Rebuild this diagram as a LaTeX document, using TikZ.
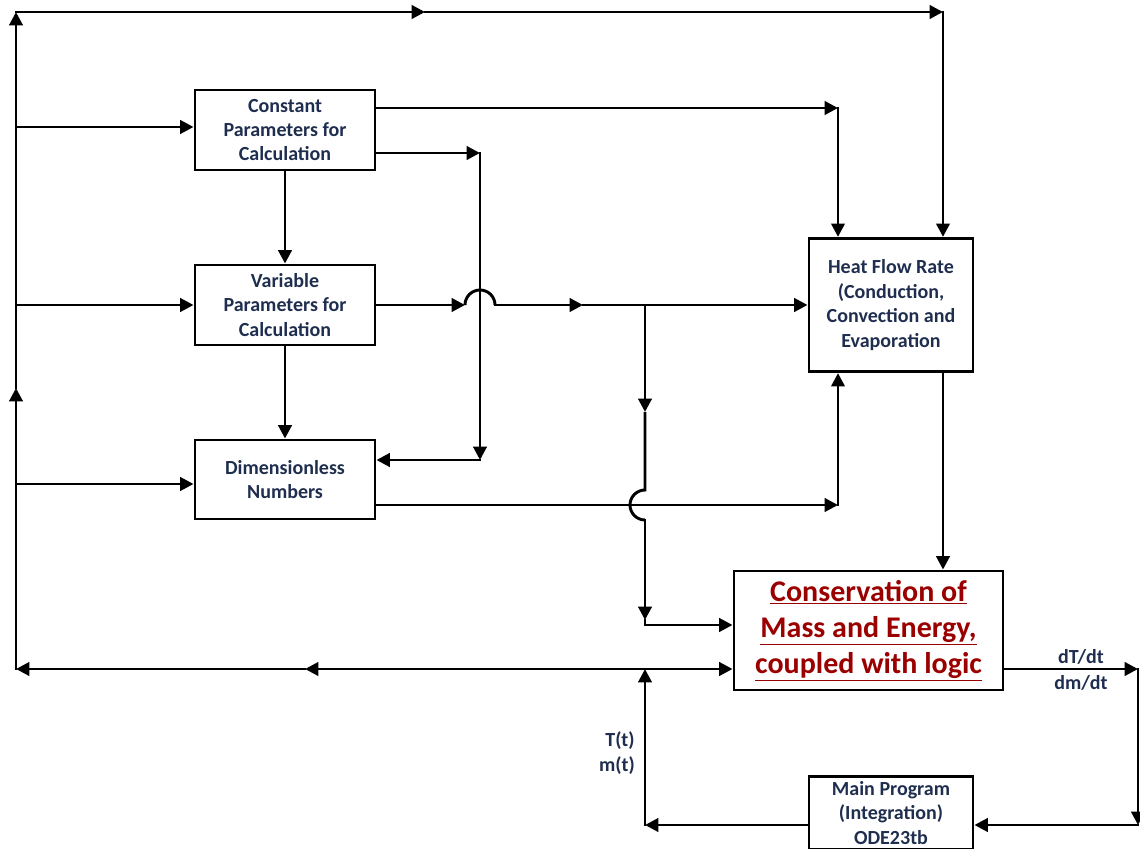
\documentclass[tikz,border=0pt]{standalone}
\usepackage{fontspec}
\setmainfont{Carlito}
\usetikzlibrary{arrows.meta,calc}
\definecolor{txt}{RGB}{31,46,79}
\definecolor{red1}{RGB}{155,0,0}
\begin{document}
\begin{tikzpicture}[x=0.75pt,y=-0.75pt,
  line width=2.2pt, line cap=rect,
  box/.style={draw,line width=2.2pt,align=center,inner sep=0pt,text=txt,
    font=\fontsize{15}{18.3}\selectfont\bfseries},
  arr/.style={-{Triangle[length=10pt,width=10pt]}},
  lab/.style={text=txt,font=\fontsize{15}{18.3}\selectfont\bfseries,inner sep=0pt,align=center}]
\useasboundingbox (0,0) rectangle (1140,849);
% boxes
\node[box,minimum width=135pt,minimum height=60pt] (const) at (285,130) {Constant\\Parameters for\\Calculation};
\node[box,minimum width=135pt,minimum height=60pt] (var) at (285,305) {Variable\\Parameters for\\Calculation};
\node[box,minimum width=135pt,minimum height=59.25pt] (dim) at (285,479.5) {Dimensionless\\Numbers};
\node[box,minimum width=123pt,minimum height=100pt] (heat) at (891,305) {Heat Flow Rate\\(Conduction,\\Convection and\\Evaporation};
\node[box,minimum width=201.75pt,minimum height=89.25pt,text=red1,font=\fontsize{22.5}{27}\selectfont\bfseries] (cons) at (868.5,630.5) {\underline{Conservation of}\\\underline{Mass and Energy,}\\\underline{coupled with logic}};
\node[box,minimum width=123pt,minimum height=54.75pt] (main) at (891,813) {Main Program\\(Integration)\\ODE23tb};
% coordinates
\coordinate (BL) at (16,669);
\coordinate (Lmid) at (16,388);
\coordinate (TL) at (16,12);
\coordinate (Tmid) at (425,12);
\coordinate (TR) at (943,12);
\coordinate (b1) at (16,127);
\coordinate (b2) at (16,305);
\coordinate (b3) at (16,484);
\coordinate (c1) at (375,108);
\coordinate (k1) at (838,108);
\coordinate (c2) at (375,153);
\coordinate (k2) at (480,153);
\coordinate (k3) at (480,460);
\coordinate (h1) at (465,305);
\coordinate (h2) at (495,305);
\coordinate (vmid) at (583,305);
\coordinate (j1) at (645,305);
\coordinate (vdn) at (645,412);
\coordinate (g1) at (645,490);
\coordinate (g2) at (645,520);
\coordinate (vdn2) at (645,620);
\coordinate (k4) at (645,625);
\coordinate (k5) at (838,505);
\coordinate (jb) at (645,669);
\coordinate (bmid) at (305,669);
\coordinate (r1) at (1138,669);
\coordinate (r2) at (1138,825);
\coordinate (m1) at (645,825);
% left trunk and top line
\draw[arr] (BL) -- (Lmid);
\draw[arr] (Lmid) -- (TL);
\draw[arr] (TL) -- (Tmid);
\draw[arr] (Tmid) -- (TR);
\draw[arr] (TR) -- (heat.north -| TR);
% branches to left boxes
\draw[arr] (b1) -- (const.west |- b1);
\draw[arr] (b2) -- (var.west |- b2);
\draw[arr] (b3) -- (dim.west |- b3);
% vertical chain
\draw[arr] (const.south) -- (var.north);
\draw[arr] (var.south) -- (dim.north);
% constant outputs
\draw[arr] (const.east |- c1) -- (k1);
\draw[arr] (k1) -- (heat.north -| k1);
\draw[arr] (const.east |- c2) -- (k2);
\draw[arr] (k2) -- (k3);
\draw[arr] (k3) -- (dim.east |- k3);
% variable output with hop
\draw[arr] (var.east) -- (h1);
\draw[line cap=butt] (h1) arc[start angle=180,end angle=0,radius=11.25pt];
\draw[arr] (h2) -- (vmid);
\draw[arr] (vmid) -- (heat.west);
\draw[arr] (j1) -- (vdn);
\draw[line cap=butt] (vdn) -- (g1) arc[start angle=90,end angle=270,radius=11.25pt];
\draw[arr] (g2) -- (vdn2);
\draw (vdn2) -- (k4);
\draw[arr] (k4) -- (cons.west |- k4);
% dimensionless output
\draw[arr] (dim.east |- k5) -- (k5);
\draw[arr] (k5) -- (heat.south -| k5);
% heat to conservation
\draw[arr] (heat.south -| TR) -- (cons.north -| TR);
% conservation output loop
\draw[arr] (cons.east |- r1) -- (r1);
\draw[arr] (r1) -- (r2);
\draw[arr] (r2) -- (main.east |- r2);
\draw[arr] (main.west |- m1) -- (m1);
\draw[arr] (m1) -- (jb);
\draw[arr] (jb) -- (cons.west |- jb);
\draw[arr] (jb) -- (bmid);
\draw[arr] (bmid) -- (BL);
% labels
\node[lab] (ldT) at (1081,657) {dT/dt};
\node[lab] (ldm) at (1081,683) {dm/dt};
\node[lab] (lT) at (620,741) {T(t)};
\node[lab] (lm) at (617,766) {m(t)};
\end{tikzpicture}
\end{document}
